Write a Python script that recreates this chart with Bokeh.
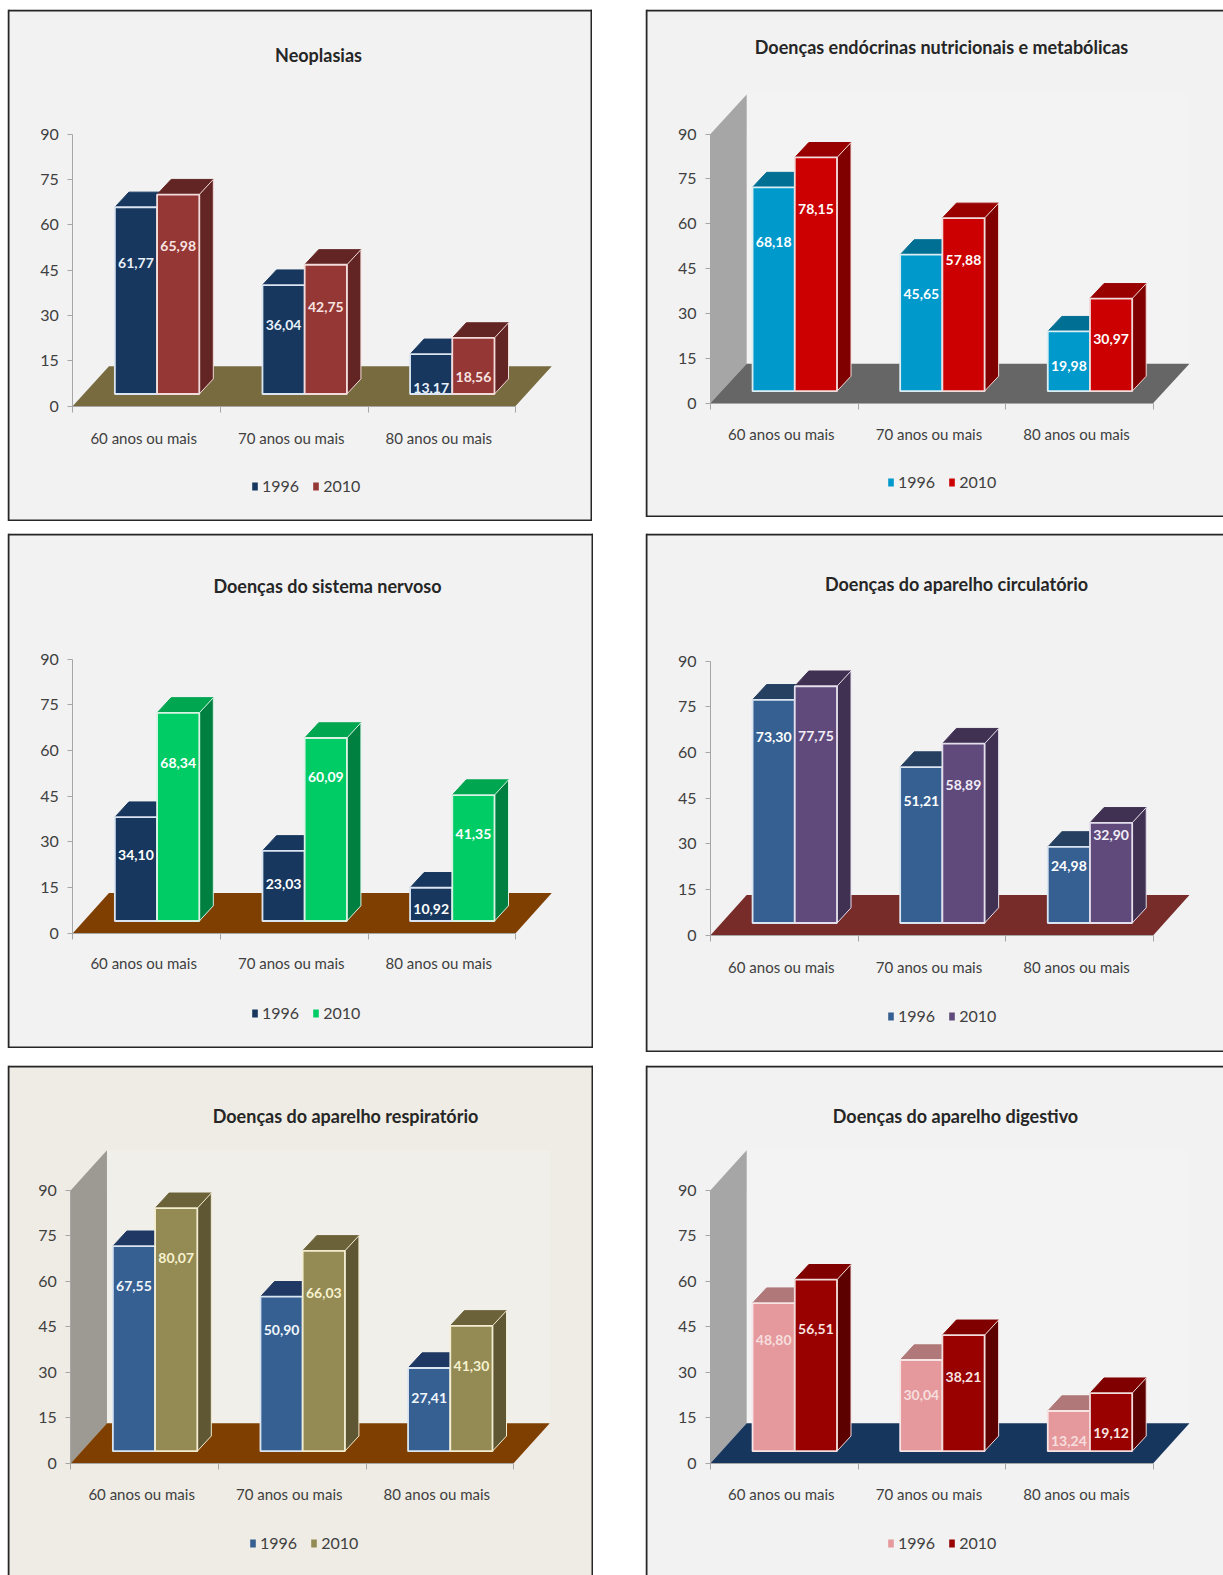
from bokeh.core.properties import value
from bokeh.embed import file_html
from bokeh.layouts import column, row
from bokeh.models import FixedTicker, Label, Legend, LegendItem, LinearAxis, Range1d
from bokeh.plotting import figure
from bokeh.resources import INLINE

# Hospitalisation rates by age band and year, one small series per disease group
categories = ["60 anos ou mais", "70 anos ou mais", "80 anos ou mais"]
years = ["1996", "2010"]
y_ticks = [0, 15, 30, 45, 60, 75, 90]

neoplasias_1996 = [61.77, 36.04, 13.17]
neoplasias_2010 = [65.98, 42.75, 18.56]
endocrinas_1996 = [68.18, 45.65, 19.98]
endocrinas_2010 = [78.15, 57.88, 30.97]
nervoso_1996 = [34.10, 23.03, 10.92]
nervoso_2010 = [68.34, 60.09, 41.35]
circulatorio_1996 = [73.30, 51.21, 24.98]
circulatorio_2010 = [77.75, 58.89, 32.90]
respiratorio_1996 = [67.55, 50.90, 27.41]
respiratorio_2010 = [80.07, 66.03, 41.30]
digestivo_1996 = [48.80, 30.04, 13.24]
digestivo_2010 = [56.51, 38.21, 19.12]

FONT = "Lato"
UX = 147.6           # pixels per category slot
BAR_START, BAR_W = 0.285, 0.286
BASE = 4.0           # bars stand this far up the floor
DX, DY = 0.095, 5.0  # extrusion of each bar
FDX, FDY = 0.245, 13.2  # floor depth

panels = [
    dict(title="Neoplasias", rect=(7, 9, 592, 521), origin=(72.3, 405.6), y90=133.5,
         title_xy=(318, 54), cat_y=437, leg=(257, 482),
         s1=neoplasias_1996, s2=neoplasias_2010,
         lab1=[47.2, 26.9, 6.0], lab2=[52.9, 32.9, 9.6],
         text1="#e8f0fa", text2="#f8e4e2",
         bg="#f2f2f2", wall=None, back=None, floor="#776b3f",
         c1=("#17375e", "#17375e", "#102a48", "#dbe5f1"),
         c2=("#953735", "#632523", "#632523", "#f2dcdb"), sides="trbl"),
    dict(title="Doenças endócrinas nutricionais e metabólicas", rect=(645, 9, 1223, 517), origin=(710, 402.6), y90=133.5,
         title_xy=(941, 46), cat_y=433, leg=(893, 478),
         s1=endocrinas_1996, s2=endocrinas_2010,
         lab1=[53.9, 36.6, 12.3], lab2=[64.8, 47.9, 21.6],
         text1="#ffffff", text2="#ffffff",
         bg="#f2f2f2", wall="#a6a6a6", back="#f3f3f3", floor="#666666",
         c1=("#0099cc", "#006f94", "#006f94", "#dbeef4"),
         c2=("#cc0000", "#990000", "#800000", "#f2dcdb"), sides="tbl"),
    dict(title="Doenças do sistema nervoso", rect=(7, 533, 593, 1048), origin=(72.3, 932.7), y90=658.6,
         title_xy=(327, 585), cat_y=962, leg=(257, 1009),
         s1=nervoso_1996, s2=nervoso_2010,
         lab1=[25.6, 16.0, 8.0], lab2=[55.9, 51.2, 32.6],
         text1="#ffffff", text2="#ffffff",
         bg="#f2f2f2", wall=None, back=None, floor="#7f3f00",
         c1=("#17375e", "#17375e", "#102a48", "#dbe5f1"),
         c2=("#00cc66", "#00a650", "#008040", "#d8f2e4"), sides="trbl"),
    dict(title="Doenças do aparelho circulatório", rect=(645, 533, 1223, 1052), origin=(710, 934.7), y90=660.6,
         title_xy=(956, 583), cat_y=966, leg=(893, 1012),
         s1=circulatorio_1996, s2=circulatorio_2010,
         lab1=[65.2, 44.2, 22.6], lab2=[65.5, 49.2, 32.9],
         text1="#ffffff", text2="#f2eef8",
         bg="#f2f2f2", wall=None, back=None, floor="#772c2a",
         c1=("#376092", "#254061", "#254061", "#dbe5f1"),
         c2=("#604a7b", "#403152", "#403152", "#e4dfec"), sides="tbl"),
    dict(title="Doenças do aparelho respiratório", rect=(7, 1065, 593, 1575), origin=(70.3, 1462.8), y90=1189.7,
         title_xy=(345, 1115), cat_y=1493, leg=(255, 1539),
         s1=respiratorio_1996, s2=respiratorio_2010,
         lab1=[58.5, 43.9, 21.6], lab2=[67.5, 56.2, 32.2],
         text1="#f0f6fc", text2="#f6f2cf",
         bg="#eeece4", wall="#9c9a92", back="#f1efe9", floor="#7f3f00",
         c1=("#366092", "#1f3864", "#1f3864", "#dbe5f1"),
         c2=("#948a54", "#6c6239", "#5f5734", "#f2ecd0"), sides="trl"),
    dict(title="Doenças do aparelho digestivo", rect=(645, 1065, 1223, 1575), origin=(710, 1462.8), y90=1189.7,
         title_xy=(955, 1115), cat_y=1493, leg=(893, 1539),
         s1=digestivo_1996, s2=digestivo_2010,
         lab1=[40.6, 22.6, 7.3], lab2=[44.2, 28.6, 10.0],
         text1="#f6dede", text2="#f8e4e2",
         bg="#f2f2f2", wall="#a6a6a6", back="#f3f3f3", floor="#17365d",
         c1=("#e6999c", "#b07878", "#b07878", "#f7e4e4"),
         c2=("#990000", "#800000", "#5c0000", "#f2dcdb"), sides="tl"),
]


def draw_panel(cfg):
    left, top, right, bottom = cfg["rect"]
    ox, oy = cfg["origin"]
    uy = (oy - cfg["y90"]) / 90.0
    to_x = lambda px: (px - ox) / UX
    to_y = lambda py: (oy - py) / uy

    p = figure(width=right - left, height=bottom - top, output_backend="svg", toolbar_location=None,
               x_range=Range1d(to_x(left), to_x(right)), y_range=Range1d(to_y(bottom), to_y(top)),
               min_border=0, background_fill_color=cfg["bg"], border_fill_color=None,
               outline_line_color=None, x_axis_type=None, y_axis_type=None)
    p.grid.visible = False

    if cfg["back"]:
        p.quad(left=[FDX], right=[3 + FDX], bottom=[FDY], top=[90 + FDY],
               fill_color=cfg["back"], line_color=None)
    if cfg["wall"]:
        p.patch([0, 0, FDX, FDX], [0, 90, 90 + FDY, FDY], fill_color=cfg["wall"], line_color=None)
    p.patch([0, FDX, 3 + FDX, 3], [0, FDY, FDY, 0], fill_color=cfg["floor"], line_color=None)

    # Each bar: extruded top and side first, then the front face and its value
    for j, (vals, labs, cols, txt) in enumerate(((cfg["s1"], cfg["lab1"], cfg["c1"], cfg["text1"]),
                                                 (cfg["s2"], cfg["lab2"], cfg["c2"], cfg["text2"]))):
        front, topc, sidec, edge = cols
        x0 = [i + BAR_START + j * BAR_W for i in range(3)]
        x1 = [x + BAR_W for x in x0]
        y0 = [BASE] * 3
        y1 = [BASE + v for v in vals]
        p.patches([[a, a + DX, b + DX, b] for a, b in zip(x0, x1)],
                  [[t, t + DY, t + DY, t] for t in y1],
                  fill_color=topc, line_color=topc, line_width=1)
        p.patches([[b, b + DX, b + DX, b] for b in x1],
                  [[BASE, BASE + DY, t + DY, t] for t in y1],
                  fill_color=sidec, line_color=edge, line_width=1)
        p.quad(left=x0, right=x1, bottom=y0, top=y1, fill_color=front, line_color=edge, line_width=1.8)
        p.text(x=[(a + b) / 2 for a, b in zip(x0, x1)], y=labs,
               text=[f"{v:.2f}".replace(".", ",") for v in vals],
               text_color=txt, text_font=value(FONT), text_font_size="14px",
               text_font_style="bold", text_align="center", text_baseline="middle")

    y_axis = LinearAxis(ticker=FixedTicker(ticks=y_ticks), fixed_location=0, bounds=(0, 90),
                        axis_line_color="#a6a6a6", major_tick_line_color="#a6a6a6",
                        major_tick_in=0, major_tick_out=5, minor_tick_line_color=None,
                        major_label_text_font=FONT, major_label_text_font_size="16px",
                        major_label_text_color="#404040", major_label_standoff=9)
    p.add_layout(y_axis, "left")

    slot_centres = [0.48, 1.48, 2.48]
    x_axis = LinearAxis(ticker=FixedTicker(ticks=slot_centres, minor_ticks=[0, 1, 2, 3]),
                        fixed_location=0, bounds=(0, 3), axis_line_color="#a6a6a6",
                        major_tick_line_color=None, minor_tick_line_color="#a6a6a6",
                        minor_tick_in=0, minor_tick_out=6,
                        major_label_overrides=dict(zip(slot_centres, categories)),
                        major_label_text_font=FONT, major_label_text_font_size="15px",
                        major_label_text_color="#404040", major_label_standoff=int(cfg["cat_y"] - oy - 14))
    p.add_layout(x_axis, "below")

    p.add_layout(Label(x=to_x(cfg["title_xy"][0]), y=to_y(cfg["title_xy"][1]), text=cfg["title"],
                       text_font=FONT, text_font_size="18px", text_font_style="bold",
                       text_color="#262626", text_align="center", text_baseline="middle"))

    blank = float("nan")
    k1 = p.quad(left=[blank], right=[blank], bottom=[blank], top=[blank], fill_color=cfg["c1"][0], line_color=None)
    k2 = p.quad(left=[blank], right=[blank], bottom=[blank], top=[blank], fill_color=cfg["c2"][0], line_color=None)
    leg_x, leg_y = cfg["leg"]
    legend = Legend(items=[LegendItem(label=years[0], renderers=[k1]), LegendItem(label=years[1], renderers=[k2])],
                    orientation="horizontal", location=(leg_x - left - 6, bottom - leg_y - 13),
                    background_fill_alpha=0, border_line_color=None, glyph_width=7, glyph_height=10,
                    label_text_font=FONT, label_text_font_size="16px", label_text_color="#404040",
                    label_standoff=4, spacing=13, padding=0, margin=0)
    p.add_layout(legend, "center")

    # Panel frame: open on the sides that run off the page
    s = cfg["sides"]
    segs = {"t": ([left + 1, right], [top + 1, top + 1]),
            "b": ([left + 1, right], [bottom - 1, bottom - 1]),
            "l": ([left + 1, left + 1], [top, bottom]),
            "r": ([right - 1, right - 1], [top, bottom])}
    for key in s:
        xs, ys = segs[key]
        p.line([to_x(v) for v in xs], [to_y(v) for v in ys], line_color="#262626", line_width=2)
    return p


figs = [draw_panel(c) for c in panels]
figs[0].margin = (9, 0, 0, 7)
figs[1].margin = (9, 0, 0, 53)
figs[2].margin = (12, 0, 0, 7)
figs[3].margin = (12, 0, 0, 52)
figs[4].margin = (13, 0, 0, 7)
figs[5].margin = (13, 0, 0, 52)

page = column(row(figs[0], figs[1]), row(figs[2], figs[3]), row(figs[4], figs[5]))
open("out.html", "w").write(file_html(page, INLINE))
